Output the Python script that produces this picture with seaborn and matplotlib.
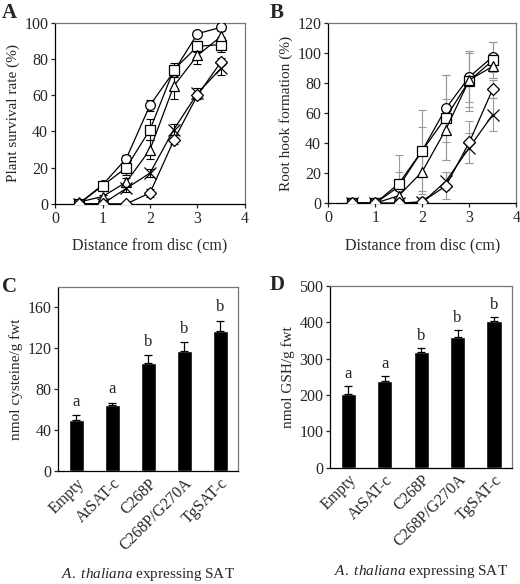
import numpy as np
import pandas as pd
import matplotlib
matplotlib.use("Agg")
import matplotlib.pyplot as plt
import seaborn as sns

sns.set_style("ticks")
plt.rcParams["font.family"] = ["Liberation Serif", "DejaVu Serif"]
plt.rcParams["mathtext.fontset"] = "custom"
plt.rcParams["mathtext.it"] = "Liberation Serif:italic"
plt.rcParams["mathtext.rm"] = "Liberation Serif"

# distances (cm)
distance = [0.5, 1.0, 1.5, 2.0, 2.5, 3.0, 3.5]
series = ["circle", "square", "triangle", "cross", "diamond"]
markers = {"circle": "o", "square": "s", "triangle": "^", "cross": "x", "diamond": "D"}

# panel A: plant survival rate (%)
surv = {
    "circle":   [0, 10.5, 25, 54.5, 73, 94, 97.5],
    "square":   [0, 10, 20, 41, 74, 87, 88],
    "triangle": [1, 4, 12, 30, 65, 82, 92.5],
    "cross":    [0, 0, 8.5, 17, 41, 61, 75],
    "diamond":  [0, 0, 0, 6, 35, 60, 78.5],
}
surv_err = {
    "circle":   [0, 1, 2, 3, 3, 1, 1],
    "square":   [0, 1, 4, 6, 4, 3, 4],
    "triangle": [1, 1, 2, 5, 7, 5, 3],
    "cross":    [0, 0, 2, 2, 3, 3, 4],
    "diamond":  [0, 0, 0, 2, 2, 2, 2],
}

# panel B: root hook formation (%)
hook = {
    "circle":   [0, 0, 11, 35, 63, 84, 97.5],
    "square":   [0, 0, 13, 35, 57, 81.5, 95],
    "triangle": [0, 0, 5, 21, 49, 82, 91],
    "cross":    [0, 0, 0, 0.5, 14.5, 37, 59],
    "diamond":  [0, 0, 0, 1, 11.5, 40.5, 76],
}
hook_err = {
    "circle":   [0, 0, 10, 27, 22, 17, 10],
    "square":   [0, 0, 19, 16, 28, 20, 12],
    "triangle": [0, 0, 4, 15, 20, 18, 8],
    "cross":    [0, 0, 0, 1, 6, 10, 11],
    "diamond":  [0, 0, 0, 3, 9, 14, 6],
}

# panels C and D
lines = ["Empty", "AtSAT-c", "C268P", "C268P/G270A", "TgSAT-c"]
cys = [50, 65, 106, 117, 137]
cys_err = [5, 2, 7, 9, 10]
gsh = [204, 240, 320, 359, 404]
gsh_err = [22, 13, 10, 20, 12]
letters = ["a", "a", "b", "b", "b"]


def style_axes(ax):
    for side in ["top", "right"]:
        ax.spines[side].set_color("#777777")
    for side in ["left", "bottom"]:
        ax.spines[side].set_color("black")
    for sp in ax.spines.values():
        sp.set_linewidth(0.9)
    ax.tick_params(direction="out", length=3, width=0.9, labelsize=11.5, pad=2)


def line_panel(ax, d, e, err_color, ylim, yticks, ylabel):
    for s in series:
        ax.errorbar(distance, d[s], yerr=e[s], fmt="none", ecolor=err_color,
                    elinewidth=0.8, capsize=3, capthick=0.8, zorder=1)
    for s in series:
        df = pd.DataFrame({"distance": distance, "value": d[s]})
        mk = markers[s]
        sns.lineplot(data=df, x="distance", y="value", marker=mk,
                     color="black", linewidth=0.9,
                     markersize=8 if mk == "x" else (6 if mk == "D" else 7),
                     markerfacecolor="white" if mk != "x" else "black",
                     markeredgecolor="black", markeredgewidth=0.9,
                     ax=ax, zorder=3)
    ax.set_xlim(0, 4)
    ax.set_ylim(*ylim)
    ax.set_xticks([0, 1, 2, 3, 4])
    ax.set_yticks(yticks)
    ax.set_xlabel("Distance from disc (cm)", fontsize=11.5, labelpad=8)
    ax.set_ylabel(ylabel, fontsize=11, labelpad=3)
    style_axes(ax)


def bar_panel(ax, vals, errs, ylim, yticks, ylabel, off):
    df = pd.DataFrame({"line": lines, "value": vals})
    sns.barplot(data=df, x="line", y="value", color="black", width=0.42,
                errorbar=None, ax=ax, zorder=2)
    ax.errorbar(range(len(lines)), vals, yerr=[np.zeros(len(errs)), errs],
                fmt="none", ecolor="black", elinewidth=0.9, capsize=3,
                capthick=0.9, zorder=3)
    for i, (v, e, t) in enumerate(zip(vals, errs, letters)):
        ax.text(i, v + e + off, t, ha="center", va="bottom", fontsize=12)
    ax.set_xlim(-0.5, 4.5)
    ax.set_ylim(*ylim)
    ax.set_yticks(yticks)
    ax.set_xticks(range(len(lines)))
    ax.set_xticklabels(lines, rotation=45, ha="right", rotation_mode="anchor",
                       fontsize=11.5)
    ax.set_xlabel(r"$\it{A.\ thaliana}$ expressing SAT", fontsize=11, labelpad=9)
    ax.set_ylabel(ylabel, fontsize=11, labelpad=3)
    style_axes(ax)
    ax.tick_params(axis="x", length=0, pad=3)


fig = plt.figure(figsize=(5.2, 5.84), dpi=100)
axA = fig.add_axes([0.106, 0.651, 0.365, 0.310])
axB = fig.add_axes([0.631, 0.652, 0.362, 0.309])
axC = fig.add_axes([0.112, 0.193, 0.346, 0.316])
axD = fig.add_axes([0.635, 0.199, 0.350, 0.311])

line_panel(axA, surv, surv_err, "black", (0, 100), range(0, 101, 20),
           "Plant survival rate (%)")
line_panel(axB, hook, hook_err, "#999999", (0, 120), range(0, 121, 20),
           "Root hook formation (%)")
bar_panel(axC, cys, cys_err, (0, 180), range(0, 161, 40), "nmol cysteine/g fwt", 5)
bar_panel(axD, gsh, gsh_err, (0, 500), range(0, 501, 100), "nmol GSH/g fwt", 10)

for lab, x, y in [("A", 0.004, 0.978), ("B", 0.518, 0.978),
                  ("C", 0.004, 0.509), ("D", 0.518, 0.512)]:
    fig.text(x, y, lab, fontsize=15, fontweight="bold", va="center")

fig.savefig("out.png", dpi=100)
